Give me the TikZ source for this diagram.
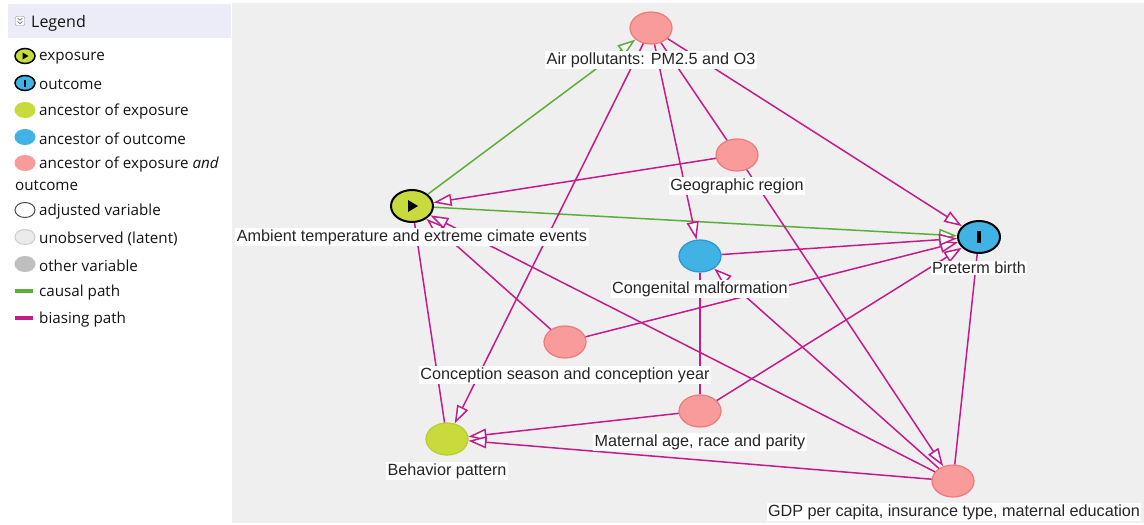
\documentclass[tikz,border=0pt]{standalone}
\usepackage{fontspec}
\setmainfont{Liberation Sans}
\newfontfamily\legfont{Open Sans}
\usetikzlibrary{arrows.meta,shapes.geometric}
\definecolor{pinkfill}{RGB}{250,155,155}
\definecolor{pinkdraw}{RGB}{238,122,122}
\definecolor{ygfill}{RGB}{200,218,60}
\definecolor{ygdraw}{RGB}{186,205,45}
\definecolor{bluefill}{RGB}{64,178,228}
\definecolor{bluedraw}{RGB}{40,150,210}
\definecolor{bias}{RGB}{196,28,138}
\definecolor{causal}{RGB}{90,175,55}
\definecolor{panel}{RGB}{239,239,239}
\definecolor{header}{RGB}{236,236,249}
\definecolor{legtxt}{RGB}{20,20,20}
\begin{document}
\begin{tikzpicture}[x=1pt,y=-1pt,
  var/.style={ellipse, minimum width=42pt, minimum height=32pt, inner sep=0pt, line width=1.2pt},
  anc/.style={var, fill=pinkfill, draw=pinkdraw},
  ancexp/.style={var, fill=ygfill, draw=ygdraw},
  ancout/.style={var, fill=bluefill, draw=bluedraw},
  expo/.style={var, fill=ygfill, draw=black, line width=2pt},
  outc/.style={var, fill=bluefill, draw=black, line width=2pt},
  lbl/.style={fill=white, inner sep=1.5pt, text=black!85, font=\fontsize{16.2}{18}\selectfont},
  biasedge/.style={draw=bias, line width=1.5pt, -{Triangle[length=18pt,width=12pt,fill=white]}},
  biasline/.style={draw=bias, line width=1.5pt},
  causaledge/.style={draw=causal, line width=1.5pt, -{Triangle[length=18pt,width=12pt,fill=white]}},
  icon/.style={ellipse, minimum width=20pt, minimum height=15pt, inner sep=0pt, line width=1pt},
  legtext/.style={anchor=west, inner sep=0pt, text=legtxt, font=\legfont\fontsize{15.2}{17}\selectfont},
  pathicon/.style={minimum width=18pt, minimum height=3.5pt, inner sep=0pt}
]
\useasboundingbox (0,0) rectangle (1144,525);
\fill[white] (0,0) rectangle (1144,525);
\fill[panel] (232,3) rectangle (1144,523);

% ---------- legend ----------
\fill[header] (8,4) rectangle (231,38);
\node[draw=black!45, fill=white, rounded corners=1pt, minimum size=9pt, inner sep=0pt] (hicon) at (20,21) {};
\draw[black!60, line width=0.6pt] (17.5,18) -- (20,20.3) -- (22.5,18);
\draw[black!60, line width=0.6pt] (17.5,21.3) -- (20,23.6) -- (22.5,21.3);
\node[legtext, font=\legfont\fontsize{16}{18}\selectfont] (hleg) at (31,23) {Legend};

\node[icon, fill=ygfill, draw=black, line width=1.5pt] (iexp) at (25,56) {};
\fill (iexp.center) ++(-2.5,-3.5) -- ++(6,3.5) -- ++(-6,3.5) -- cycle;
\node[legtext] (texp) at (39,58) {exposure};

\node[icon, fill=bluefill, draw=black, line width=1.5pt] (iout) at (25,83) {};
\fill (iout.center) ++(-1,-3.5) rectangle ++(2,7);
\node[legtext] (tout) at (39,85) {outcome};

\node[icon, fill=ygfill, draw=ygfill] (iae) at (25,110) {};
\node[legtext] (tae) at (39,112) {ancestor of exposure};

\node[icon, fill=bluefill, draw=bluefill] (iao) at (25,137) {};
\node[legtext] (tao) at (39,139) {ancestor of outcome};

\node[icon, fill=pinkfill, draw=pinkfill] (iaeo) at (25,163) {};
\node[legtext] (taeo) at (39,165) {ancestor of exposure \textit{and}};
\node[legtext] (taeo2) at (15,186) {outcome};

\node[icon, fill=white, draw=black!70] (iadj) at (25,210) {};
\node[legtext] (tadj) at (39,212) {adjusted variable};

\node[icon, fill=black!8, draw=black!20] (ilat) at (25,237) {};
\node[legtext] (tlat) at (39,239) {unobserved (latent)};

\node[icon, fill=black!25, draw=black!25] (ioth) at (25,264) {};
\node[legtext] (toth) at (39,266) {other variable};

\node[pathicon, fill=causal] (icaus) at (24,291) {};
\node[legtext] (tcaus) at (39,293) {causal path};

\node[pathicon, fill=bias] (ibias) at (24,318) {};
\node[legtext] (tbias) at (39,320) {biasing path};

% ---------- nodes ----------
\node[anc] (AP) at (651,28) {};
\node[anc] (GR) at (737,155) {};
\node[expo] (AT) at (412,206) {};
\node[ancout] (CM) at (700,256) {};
\node[outc] (PB) at (979,237) {};
\node[anc] (CS) at (565,342) {};
\node[anc] (MA) at (700,411) {};
\node[ancexp] (BP) at (447,439) {};
\node[anc] (GDP) at (953,481) {};

\fill (AT.center) ++(-4,-6) -- ++(10,6) -- ++(-10,6) -- cycle;
\fill (PB.center) ++(-1.6,-6) rectangle ++(3.2,12);

% ---------- edges ----------
\draw[causaledge] (AT) -- (AP);
\draw[causaledge] (AT) -- (PB);
\draw[biasedge] (GR) -- (AT);
\draw[biasedge] (AP) -- (BP);
\draw[biasedge] (AP) -- (CM);
\draw[biasline] (AP) -- (GR);
\draw[biasedge] (AP) -- (PB);
\draw[biasedge] (GR) -- (GDP);
\draw[biasedge] (CS) -- (AT);
\draw[biasedge] (CS) -- (PB);
\draw[biasedge] (MA) -- (PB);
\draw[biasedge] (MA) -- (BP);
\draw[biasline] (MA) -- (CM);
\draw[biasedge] (GDP) -- (BP);
\draw[biasedge] (GDP) -- (AT);
\draw[biasedge] (GDP) -- (CM);
\draw[biasline] (GDP) -- (PB);
\draw[biasedge] (CM) -- (PB);
\draw[biasline] (BP) -- (AT);

% ---------- labels ----------
\node[lbl] (lAP) at (651,60) {Air pollutants: PM2.5 and O3};
\node[lbl] (lGR) at (737,186) {Geographic region};
\node[lbl] (lAT) at (412,237) {Ambient temperature and extreme cimate events};
\node[lbl] (lCM) at (700,289) {Congenital malformation};
\node[lbl] (lPB) at (979,268) {Preterm birth};
\node[lbl] (lCS) at (565,375) {Conception season and conception year};
\node[lbl] (lMA) at (700,442) {Maternal age, race and parity};
\node[lbl] (lBP) at (447,471) {Behavior pattern};
\node[lbl] (lGDP) at (954,512) {GDP per capita, insurance type, maternal education};
\end{tikzpicture}
\end{document}
